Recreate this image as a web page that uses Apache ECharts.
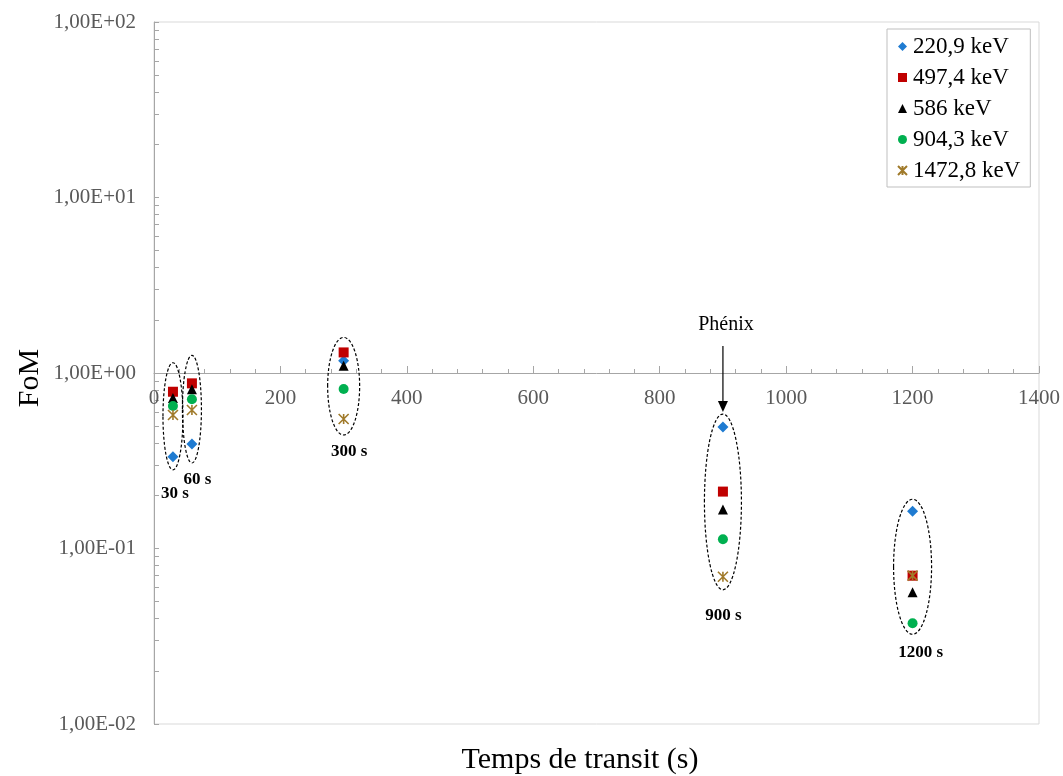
<!DOCTYPE html>
<html><head><meta charset="utf-8">
<script src="https://cdn.jsdelivr.net/npm/echarts@6/dist/echarts.min.js"></script>
<style>html,body{margin:0;padding:0;background:#fff}#c{width:1063px;height:776px}</style>
</head><body><div id="c"></div>
<script>
// ---- data ----
const transitTimes = [30, 60, 300, 900, 1200];
const groupLabels = ['30 s', '60 s', '300 s', '900 s', '1200 s'];
const seriesNames = ['220,9 keV', '497,4 keV', '586 keV', '904,3 keV', '1472,8 keV'];
const fom220 = [0.333, 0.394, 1.175, 0.492, 0.163];
const fom497 = [0.782, 0.873, 1.31, 0.211, 0.070];
const fom586 = [0.72, 0.807, 1.10, 0.167, 0.0563];
const fom904 = [0.648, 0.708, 0.811, 0.113, 0.0375];
const fom1472 = [0.576, 0.615, 0.547, 0.069, 0.070];
const yTickValues = [0.01, 0.1, 1, 10, 100];
const yTickLabels = ['1,00E-02', '1,00E-01', '1,00E+00', '1,00E+01', '1,00E+02'];
const xTickValues = [0, 200, 400, 600, 800, 1000, 1200, 1400];
const phenixLabel = 'Phénix';
const phenixTime = 900;
const xTitle = 'Temps de transit (s)';
const yTitle = 'FoM';

// ---- layout / styles ----
const FONT = '"Liberation Serif", "Times New Roman", serif';
const ellipseRx = [10, 9.5, 16, 18.5, 19];
const ellipsePadTop = [29, 28, 15, 13, 12];
const ellipsePadBottom = [13, 19, 16, 13, 11];
const labelDx = [2, 5.5, 5.5, 0.5, 8];
const labelDy = [24, 17, 17, 26, 18];

const allSeries = [fom220, fom497, fom586, fom904, fom1472];
const styles = [
  { symbol: 'diamond', size: 11, color: '#1f7bd1' },
  { symbol: 'rect', size: 10, color: '#c00000' },
  { symbol: 'triangle', size: 10, color: '#000000' },
  { symbol: 'circle', size: 10, color: '#00b050' },
  { symbol: 'path://M0,0L10,10M10,0L0,10M5,0L5,10', size: 10, color: '#a07a2a', stroke: true }
];

const yMinorTicks = [];
for (let d = 0; d < yTickValues.length - 1; d++) {
  for (let k = 2; k <= 9; k++) yMinorTicks.push(+(yTickValues[d] * k).toPrecision(3));
}

const groupData = transitTimes.map((t, i) => {
  const vals = allSeries.map(s => s[i]);
  return [t, Math.min.apply(null, vals), Math.max.apply(null, vals), i];
});

const chart = echarts.init(document.getElementById('c'), null, { renderer: 'canvas' });

const scatterSeries = seriesNames.map((name, si) => {
  const st = styles[si];
  return {
    name: name,
    type: 'scatter',
    xAxisIndex: 0, yAxisIndex: 0,
    symbol: st.symbol,
    symbolSize: st.size,
    itemStyle: st.stroke
      ? { color: 'rgba(0,0,0,0)', borderColor: st.color, borderWidth: 1.6, opacity: 1 }
      : { color: st.color, opacity: 1 },
    emphasis: { disabled: true },
    z: 5 + si,
    data: transitTimes.map((t, i) => [t, allSeries[si][i]])
  };
});

const ellipseSeries = {
  type: 'custom',
  name: '_groups',
  xAxisIndex: 0, yAxisIndex: 0,
  clip: false,
  silent: true,
  z: 3,
  encode: { x: 0, y: [1, 2] },
  data: groupData,
  renderItem: function (params, api) {
    const i = api.value(3);
    const t = api.value(0);
    const top = api.coord([t, api.value(2)]);
    const bot = api.coord([t, api.value(1)]);
    const y0 = top[1] - ellipsePadTop[i];
    const y1 = bot[1] + ellipsePadBottom[i];
    const cx = top[0];
    const children = [
      {
        type: 'ellipse',
        shape: { cx: cx, cy: (y0 + y1) / 2, rx: ellipseRx[i], ry: (y1 - y0) / 2 },
        style: { fill: 'none', stroke: '#000', lineWidth: 1.2, lineDash: [3, 2] }
      },
      {
        type: 'text',
        style: {
          text: groupLabels[i], x: cx + labelDx[i], y: y1 + labelDy[i],
          font: 'bold 17px ' + FONT, fill: '#000',
          align: 'center', verticalAlign: 'middle',
          textAlign: 'center', textVerticalAlign: 'middle'
        }
      }
    ];
    if (t === phenixTime) {
      const tipY = y0 - 2;
      const startY = tipY - 66;
      children.push({
        type: 'line',
        shape: { x1: cx, y1: startY, x2: cx, y2: tipY - 8 },
        style: { stroke: '#000', lineWidth: 1.2 }
      });
      children.push({
        type: 'polygon',
        shape: { points: [[cx - 5, tipY - 11], [cx + 5, tipY - 11], [cx, tipY]] },
        style: { fill: '#000' }
      });
      children.push({
        type: 'text',
        style: {
          text: phenixLabel, x: cx + 3, y: startY - 21,
          font: '20px ' + FONT, fill: '#000',
          align: 'center', verticalAlign: 'middle',
          textAlign: 'center', textVerticalAlign: 'middle'
        }
      });
    }
    return { type: 'group', children: children };
  }
};

const axisGray = '#a6a6a6';
const labelGray = '#595959';

const option = {
  animation: false,
  backgroundColor: '#ffffff',
  grid: {
    left: 154, top: 22, right: 23, bottom: 52,
    show: true, borderColor: '#d9d9d9', borderWidth: 1, backgroundColor: 'transparent'
  },
  legend: {
    data: seriesNames,
    orient: 'vertical',
    left: 887, top: 29,
    itemWidth: 9, itemHeight: 9, itemGap: 8,
    padding: [6, 10, 5, 10],
    borderColor: '#bfbfbf', borderWidth: 1,
    backgroundColor: '#fff',
    textStyle: { fontFamily: FONT, fontSize: 23, color: '#000', padding: [0, 0, 0, 1] },
    selectedMode: false
  },
  xAxis: {
    type: 'value', min: 0, max: 1400, interval: 200,
    position: 'bottom', offset: 0,
    axisLine: { show: true, onZero: false, lineStyle: { color: axisGray, width: 1 } },
    axisTick: { show: true, inside: true, length: 7, lineStyle: { color: axisGray } },
    minorTick: { show: true, splitNumber: 5, length: 4, lineStyle: { color: axisGray } },
    axisLabel: {
      margin: 15, fontFamily: FONT, fontSize: 21, color: labelGray,
      formatter: v => String(xTickValues[xTickValues.indexOf(v)])
    },
    splitLine: { show: false }
  },
  yAxis: [
    {
      type: 'log', logBase: 10, min: 0.01, max: 100, position: 'left',
      axisLine: { show: true, lineStyle: { color: axisGray, width: 1 } },
      axisTick: { show: true, inside: true, length: 5, lineStyle: { color: axisGray } },
      axisLabel: {
        margin: 18, fontFamily: FONT, fontSize: 21, color: labelGray,
        formatter: function (v) {
          let best = 0, bd = Infinity;
          yTickValues.forEach((tv, k) => {
            const d = Math.abs(Math.log10(tv) - Math.log10(v));
            if (d < bd) { bd = d; best = k; }
          });
          return yTickLabels[best];
        }
      },
      splitLine: { show: false },
      minorTick: { show: false }
    },
    {
      type: 'log', logBase: 10, min: 0.01, max: 100, position: 'left', offset: 0,
      axisLine: { show: false },
      axisTick: { show: true, inside: true, length: 5, lineStyle: { color: axisGray }, customValues: yMinorTicks },
      axisLabel: { show: false },
      splitLine: { show: false }
    }
  ],
  graphic: [
    {
      type: 'text', x: 30, y: 378, rotation: Math.PI / 2,
      style: {
        text: yTitle, font: '30px ' + FONT, fill: '#000',
        align: 'center', verticalAlign: 'middle', textAlign: 'center', textVerticalAlign: 'middle'
      }
    },
    {
      type: 'text', x: 580, y: 760,
      style: {
        text: xTitle, font: '30px ' + FONT, fill: '#000',
        align: 'center', verticalAlign: 'middle', textAlign: 'center', textVerticalAlign: 'middle'
      }
    }
  ],
  series: [ellipseSeries].concat(scatterSeries)
};

chart.setOption(option);

// Place the x axis so that it crosses the y axis at FoM = 1
const yOne = chart.convertToPixel({ yAxisIndex: 0 }, 1);
const yBottom = chart.convertToPixel({ yAxisIndex: 0 }, yTickValues[0]);
chart.setOption({ xAxis: { offset: -(yBottom - yOne) } });
</script>
</body></html>
